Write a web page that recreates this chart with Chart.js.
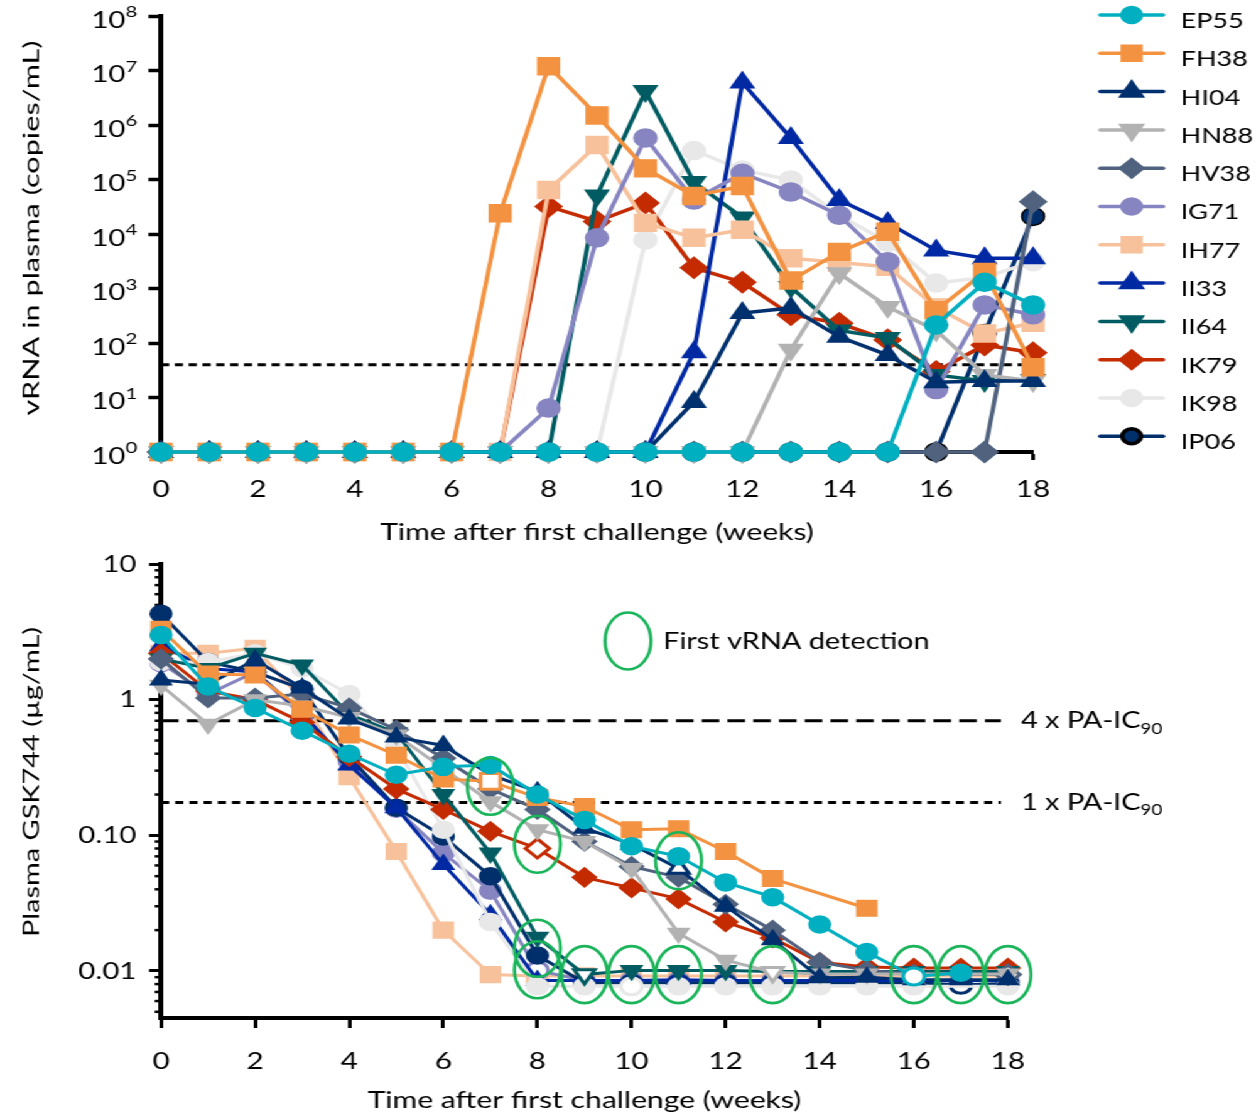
<!DOCTYPE html>
<html>
<head>
<meta charset="utf-8">
<script src="https://cdn.jsdelivr.net/npm/chart.js@4.4.1/dist/chart.umd.min.js"></script>
<style>
  html, body { margin: 0; padding: 0; background: #fff; overflow: hidden; }
  /* the figure is laid out 1000px wide and stretched sideways */
  #wrap { position: absolute; left: 0; top: 0; width: 1000px; height: 1116px; transform: scaleX(1.256); transform-origin: 0 0; }
  #vrna { position: absolute; left: 0; top: 0; }
  #plasma { position: absolute; left: 0; top: 540px; }
</style>
</head>
<body>
<div id="wrap">
  <canvas id="vrna" width="1000" height="560"></canvas>
  <canvas id="plasma" width="1000" height="576"></canvas>
</div>
<script>
const weeks = [0, 1, 2, 3, 4, 5, 6, 7, 8, 9, 10, 11, 12, 13, 14, 15, 16, 17, 18];
const animals = ['EP55', 'FH38', 'HI04', 'HN88', 'HV38', 'IG71', 'IH77', 'II33', 'II64', 'IK79', 'IK98', 'IP06'];
const colors = ['#00afc0', '#f39240', '#00306e', '#b2b2b2', '#50627e', '#8785c1', '#f7c19b', '#0029a3', '#005c62', '#c42b00', '#e8e8e8', '#002f6c'];
const shapes = ['circle', 'rect', 'triangle', 'triangle', 'rectRot', 'circle', 'rect', 'triangle', 'triangle', 'rectRot', 'circle', 'circle'];
const turns = [0, 0, 0, 180, 0, 0, 0, 0, 180, 0, 0, 0];
// stacking in the lower panel: higher numbers sit further back
const plasmaLayer = [0, 0, 0, 0, 0, 2, 2, 1, 0, 0, 0, 1];

// plasma vRNA, copies/mL (1 = not detected)
const vEP55 = [1, 1, 1, 1, 1, 1, 1, 1, 1, 1, 1, 1, 1, 1, 1, 1, 215, 1300, 500];
const vFH38 = [1, 1, 1, 1, 1, 1, 1, 24000, 12000000, 1500000, 160000, 50000, 76000, 1400, 4700, 11000, 400, 2000, 36];
const vHI04 = [1, 1, 1, 1, 1, 1, 1, 1, 1, 1, 1, 8.3, 355, 440, 130, 60, 19, 20, 20];
const vHN88 = [1, 1, 1, 1, 1, 1, 1, 1, 1, 1, 1, 1, 1, 75, 1900, 460, 170, 26, 20];
const vHV38 = [1, 1, 1, 1, 1, 1, 1, 1, 1, 1, 1, 1, 1, 1, 1, 1, 1, 1, 39000];
const vIG71 = [1, 1, 1, 1, 1, 1, 1, 1, 6.4, 8500, 580000, 42000, 130000, 59000, 22000, 3100, 14, 500, 330];
const vIH77 = [1, 1, 1, 1, 1, 1, 1, 1, 64000, 430000, 16000, 8500, 12000, 3600, 3000, 2500, 450, 150, 235];
const vII33 = [1, 1, 1, 1, 1, 1, 1, 1, 1, 1, 1, 68, 6000000, 580000, 42000, 16000, 5000, 3600, 3600];
const vII64 = [1, 1, 1, 1, 1, 1, 1, 1, 1, 51000, 4200000, 90000, 20000, 1070, 170, 123, 26, 20, 21];
const vIK79 = [1, 1, 1, 1, 1, 1, 1, 1, 32000, 17000, 37000, 2400, 1300, 330, 230, 114, 30, 92, 66];
const vIK98 = [1, 1, 1, 1, 1, 1, 1, 1, 1, 1, 7800, 340000, 150000, 98000, 22000, 7000, 1260, 1600, 3100];
const vIP06 = [1, 1, 1, 1, 1, 1, 1, 1, 1, 1, 1, 1, 1, 1, 1, 1, 1, 150, 21000];
const vrna = [vEP55, vFH38, vHI04, vHN88, vHV38, vIG71, vIH77, vII33, vII64, vIK79, vIK98, vIP06];
const detectionLimit = 40;

// plasma GSK744, ug/mL
const gEP55 = [3.0, 1.25, 0.87, 0.59, 0.40, 0.28, 0.32, 0.33, 0.2, 0.13, 0.083, 0.07, 0.045, 0.035, 0.022, 0.0138, 0.0091, 0.0097, null];
const gFH38 = [3.3, 1.55, 1.52, 0.85, 0.55, 0.39, 0.26, 0.25, 0.19, 0.163, 0.11, 0.112, 0.076, 0.048, null, 0.029, null, null, null];
const gHI04 = [1.4, 1.3, 1.96, 1.22, 0.72, 0.53, 0.46, 0.28, 0.21, 0.113, 0.086, 0.057, 0.03, 0.017, 0.0089, 0.009, 0.0086, 0.0086, 0.0086];
const gHN88 = [1.28, 0.66, 1.0, 0.9, 0.74, 0.55, 0.31, 0.177, 0.11, 0.09, 0.057, 0.019, 0.012, 0.0098, 0.0095, 0.0095, 0.0095, 0.0095, 0.0095];
const gHV38 = [2.0, 1.03, 1.03, 1.1, 0.87, 0.6, 0.37, 0.22, 0.155, 0.09, 0.059, 0.049, 0.031, 0.02, 0.0116, 0.0101, 0.0095, 0.0095, 0.0094];
const gIG71 = [1.86, 1.1, 1.6, 0.76, 0.35, 0.157, 0.074, 0.039, 0.0101, 0.0085, 0.0085, 0.0085, 0.0085, 0.0085, 0.0085, 0.0085, 0.0085, 0.0085, 0.0085];
const gIH77 = [2.2, 2.2, 2.4, 1.0, 0.27, 0.076, 0.02, 0.0094, 0.0092, 0.0092, 0.0092, 0.0092, 0.0092, 0.0092, 0.0092, 0.0092, 0.0092, 0.0092, 0.0092];
const gII33 = [2.5, 1.7, 1.6, 0.8, 0.33, 0.16, 0.061, 0.026, 0.0085, 0.0085, 0.0085, 0.0086, 0.0085, 0.0085, 0.0085, 0.0085, 0.0085, 0.0085, 0.0085];
const gII64 = [2.0, 1.7, 2.2, 1.8, 0.78, 0.57, 0.2, 0.074, 0.0177, 0.0094, 0.0101, 0.0101, 0.0101, 0.0099, 0.0099, 0.0099, 0.0099, 0.0099, 0.0099];
const gIK79 = [2.2, 1.16, 1.0, 0.68, 0.38, 0.22, 0.155, 0.107, 0.08, 0.049, 0.041, 0.034, 0.023, 0.0175, 0.0116, 0.0107, 0.0105, 0.0105, 0.0105];
const gIK98 = [1.9, 1.9, 2.2, 1.7, 1.1, 0.45, 0.11, 0.023, 0.0077, 0.0077, 0.0077, 0.0077, 0.0077, 0.0077, 0.0077, 0.0077, 0.0077, null, 0.0077];
const gIP06 = [4.3, 1.9, 1.6, 1.2, 0.38, 0.16, 0.098, 0.05, 0.013, 0.0082, 0.0082, 0.0082, 0.0082, 0.0082, 0.0082, 0.0082, 0.0082, 0.0079, 0.0081];
const drug = [gEP55, gFH38, gHI04, gHN88, gHV38, gIG71, gIH77, gII33, gII64, gIK79, gIK98, gIP06];
const paIC90 = 0.175;
const paIC90x4 = 0.70;

// circled points: first vRNA detection
const ringWeeks = [7, 8, 8, 8, 9, 10, 11, 11, 13, 16, 17, 18];
const ringLevels = [0.23, 0.086, 0.0147, 0.0102, 0.0094, 0.0094, 0.065, 0.0094, 0.0094, 0.0094, 0.0094, 0.0094];

const FONT = 'Lato, "Open Sans", sans-serif';
const GREEN = '#19b45a';
const firstWeek = vrna.map(s => s.findIndex(v => v > 1));

const topRadius = { circle: 9, rect: 12, triangle: 10.5, rectRot: 10.5 };
const botRadius = { circle: 8.5, rect: 11, triangle: 9.5, rectRot: 9.5 };
const keyRadius = { circle: 7.5, rect: 10, triangle: 9, rectRot: 8.5 };

function isDecade(v) {
  const e = Math.log10(v);
  return Math.abs(e - Math.round(e)) < 1e-6;
}

function verticalText(ctx, text, cx, cy, size, length) {
  ctx.save();
  ctx.font = size + 'px ' + FONT;
  const w = ctx.measureText(text).width;
  ctx.translate(cx, cy);
  ctx.rotate(-Math.PI / 2);
  ctx.scale(length / w, 1);
  ctx.fillStyle = '#000';
  ctx.textAlign = 'center';
  ctx.textBaseline = 'middle';
  ctx.fillText(text, 0, 0);
  ctx.restore();
}

function dashed(ctx, x1, x2, y, dash) {
  ctx.save();
  ctx.strokeStyle = '#000';
  ctx.lineWidth = 3;
  ctx.setLineDash(dash);
  ctx.beginPath();
  ctx.moveTo(x1, y);
  ctx.lineTo(x2, y);
  ctx.stroke();
  ctx.restore();
}

function axisTicks(xs) {
  return {
    drawOnChartArea: false, drawTicks: true,
    tickLength: xs.len, tickWidth: xs.width, tickColor: '#000'
  };
}

const vrnaDecor = {
  id: 'vrnaDecor',
  beforeDatasetsDraw(chart) {
    const { ctx, chartArea, scales } = chart;
    dashed(ctx, chartArea.left, chartArea.right, scales.y.getPixelForValue(detectionLimit), [6.5, 4.5]);
  },
  afterDraw(chart) {
    const { ctx, chartArea, scales } = chart;
    const y = scales.y;
    ctx.save();
    ctx.fillStyle = '#000';
    // 10^n labels
    for (let e = 0; e <= 8; e++) {
      const py = y.getPixelForValue(Math.pow(10, e)) + 4;
      const right = chartArea.left - 19;
      ctx.font = '16px ' + FONT;
      const ew = ctx.measureText(String(e)).width;
      ctx.textAlign = 'left';
      ctx.textBaseline = 'alphabetic';
      ctx.fillText(String(e), right - ew, py - 3);
      ctx.font = '23.5px ' + FONT;
      ctx.textAlign = 'right';
      ctx.textBaseline = 'middle';
      ctx.fillText('10', right - ew, py);
    }
    verticalText(ctx, 'vRNA in plasma (copies/mL)', 26, 228, 16.5, 375);
    ctx.font = '24px ' + FONT;
    ctx.textAlign = 'center';
    ctx.textBaseline = 'middle';
    ctx.fillText('Time after first challenge (weeks)', (chartArea.left + chartArea.right) / 2, 532);

    // key
    animals.forEach((name, k) => {
      const ly = 15 + k * 38.3;
      ctx.strokeStyle = colors[k];
      ctx.lineWidth = 3.5;
      ctx.lineCap = 'round';
      ctx.beginPath();
      ctx.moveTo(876, ly);
      ctx.lineTo(926, ly);
      ctx.stroke();
      ctx.fillStyle = colors[k];
      ctx.strokeStyle = k === 11 ? '#000' : colors[k];
      Chart.helpers.drawPoint(ctx, {
        pointStyle: shapes[k], rotation: turns[k], radius: keyRadius[shapes[k]], borderWidth: 1.5
      }, 901, ly);
      ctx.fillStyle = '#000';
      ctx.font = '21.5px ' + FONT;
      ctx.textAlign = 'left';
      ctx.textBaseline = 'middle';
      ctx.fillText(name, 940, ly + 6);
    });
    ctx.restore();
  }
};

new Chart(document.getElementById('vrna'), {
  type: 'line',
  data: {
    datasets: animals.map((name, k) => ({
      label: name,
      data: vrna[k].map((v, i) => ({ x: weeks[i], y: v })),
      borderColor: colors[k],
      backgroundColor: colors[k],
      borderWidth: 3.5,
      pointStyle: shapes[k],
      pointRotation: turns[k],
      pointRadius: topRadius[shapes[k]],
      pointBorderWidth: 1.5,
      pointBorderColor: k === 11 ? '#000' : colors[k],
      pointBackgroundColor: colors[k],
      tension: 0,
      clip: false
    }))
  },
  options: {
    responsive: false,
    animation: false,
    devicePixelRatio: 1,
    layout: { padding: { left: 0, right: 177.5, top: 16, bottom: 0 } },
    plugins: { legend: { display: false }, tooltip: { enabled: false } },
    scales: {
      x: {
        type: 'linear', min: 0, max: 18,
        ticks: { stepSize: 2, color: '#000', font: { family: FONT, size: 23.5 }, padding: 15, maxRotation: 0 },
        grid: axisTicks({ len: 8, width: 3 }),
        border: { color: '#000', width: 4 },
        afterFit: s => { s.height = 108; }
      },
      y: {
        type: 'logarithmic', min: 1, max: 1e8,
        afterBuildTicks: s => { s.ticks = s.ticks.filter(t => isDecade(t.value)); },
        ticks: { display: false },
        grid: axisTicks({ len: 10, width: 3.5 }),
        border: { color: '#000', width: 4 },
        afterFit: s => { s.width = 128.2; }
      }
    }
  },
  plugins: [vrnaDecor]
});

const plasmaDecor = {
  id: 'plasmaDecor',
  beforeDatasetsDraw(chart) {
    const { ctx, chartArea, scales } = chart;
    const endX = scales.x.getPixelForValue(17.85);
    dashed(ctx, chartArea.left, endX, scales.y.getPixelForValue(paIC90x4), [14, 6.5]);
    dashed(ctx, chartArea.left, endX, scales.y.getPixelForValue(paIC90), [6.5, 4.8]);
    // minor ticks on the log axis
    ctx.save();
    ctx.strokeStyle = '#000';
    ctx.lineWidth = 2.5;
    for (let d = 0.001; d < 10; d *= 10) {
      for (let m = 2; m <= 9; m++) {
        const v = d * m;
        if (v < scales.y.min || v > scales.y.max) continue;
        const py = scales.y.getPixelForValue(v);
        ctx.beginPath();
        ctx.moveTo(chartArea.left - 5, py);
        ctx.lineTo(chartArea.left, py);
        ctx.stroke();
      }
    }
    ctx.restore();
  },
  afterDatasetsDraw(chart) {
    const { ctx, scales } = chart;
    ctx.save();
    ctx.strokeStyle = GREEN;
    ctx.lineWidth = 2.6;
    ringWeeks.forEach((w, i) => {
      ctx.beginPath();
      ctx.ellipse(scales.x.getPixelForValue(w), scales.y.getPixelForValue(ringLevels[i]), 18.3, 28.5, 0, 0, Math.PI * 2);
      ctx.stroke();
    });
    ctx.restore();
  },
  afterDraw(chart) {
    const { ctx, chartArea, scales } = chart;
    ctx.save();
    ctx.fillStyle = '#000';
    const lx = scales.x.getPixelForValue(17.85) + 16;
    [[paIC90x4, '4 x PA-IC'], [paIC90, '1 x PA-IC']].forEach(([v, t]) => {
      const py = scales.y.getPixelForValue(v);
      ctx.font = '23px ' + FONT;
      ctx.textAlign = 'left';
      ctx.textBaseline = 'middle';
      ctx.fillText(t, lx, py);
      const tw = ctx.measureText(t).width;
      ctx.font = '15px ' + FONT;
      ctx.fillText('90', lx + tw, py + 8);
    });
    // key for the circles
    ctx.strokeStyle = GREEN;
    ctx.lineWidth = 2.6;
    ctx.beginPath();
    ctx.ellipse(500, 101, 18.3, 28.5, 0, 0, Math.PI * 2);
    ctx.stroke();
    ctx.font = '23px ' + FONT;
    ctx.fillText('First vRNA detection', 528, 102);

    ctx.fillStyle = '#000';
    verticalText(ctx, 'Plasma GSK744 (\u00b5g/mL)', 25.5, 242, 16.5, 310);
    ctx.font = '24px ' + FONT;
    ctx.textAlign = 'center';
    ctx.fillText('Time after first challenge (weeks)', (chartArea.left + chartArea.right) / 2, 560);
    ctx.restore();
  }
};

new Chart(document.getElementById('plasma'), {
  type: 'line',
  data: {
    datasets: animals.map((name, k) => ({
      label: name,
      data: drug[k].map((v, i) => ({ x: weeks[i], y: v })),
      order: plasmaLayer[k],
      borderColor: colors[k],
      backgroundColor: colors[k],
      borderWidth: 3,
      pointStyle: shapes[k],
      pointRotation: turns[k],
      pointRadius: botRadius[shapes[k]],
      pointBorderColor: colors[k],
      pointBackgroundColor: c => c.dataIndex === firstWeek[k] ? '#ffffff' : colors[k],
      pointBorderWidth: c => c.dataIndex === firstWeek[k] ? 3 : 1.5,
      spanGaps: true,
      tension: 0,
      clip: false
    }))
  },
  options: {
    responsive: false,
    animation: false,
    devicePixelRatio: 1,
    layout: { padding: { left: 0, right: 197.5, top: 20, bottom: 0 } },
    plugins: { legend: { display: false }, tooltip: { enabled: false } },
    scales: {
      x: {
        type: 'linear', min: 0, max: 18,
        ticks: { stepSize: 2, color: '#000', font: { family: FONT, size: 23.5 }, padding: 19, maxRotation: 0 },
        grid: axisTicks({ len: 10, width: 3 }),
        border: { color: '#000', width: 4 },
        afterFit: s => { s.height = 98; }
      },
      y: {
        type: 'logarithmic', min: 0.0045, max: 10,
        afterBuildTicks: s => { s.ticks = s.ticks.filter(t => isDecade(t.value)); },
        ticks: {
          color: '#000', font: { family: FONT, size: 23.5 }, padding: 10, autoSkip: false,
          callback: v => (v >= 1 ? String(Math.round(v)) : v.toFixed(2))
        },
        grid: axisTicks({ len: 9.5, width: 3 }),
        border: { color: '#000', width: 4 },
        afterFit: s => { s.width = 128.2; }
      }
    }
  },
  plugins: [plasmaDecor]
});
</script>
</body>
</html>
